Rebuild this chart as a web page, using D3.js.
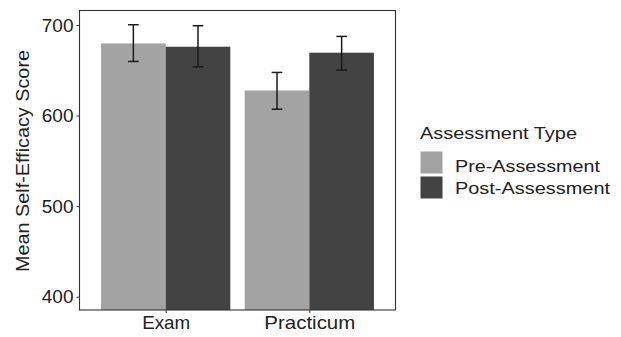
<!DOCTYPE html>
<html><head><meta charset="utf-8">
<script src="https://cdn.jsdelivr.net/npm/d3@7"></script>
<style>body{margin:0;background:#fff}svg{display:block}text{font-family:"Liberation Sans",Arial,sans-serif;fill:#222}</style>
</head><body>
<svg id="c" width="621" height="337"></svg>
<script>
const categories = ["Exam", "Practicum"];
const groups = ["Pre-Assessment", "Post-Assessment"];
const preMean = [679.6, 627.7];
const preLow = [659.7, 607.0];
const preHigh = [700.3, 647.6];
const postMean = [676.0, 669.4];
const postLow = [653.9, 650.2];
const postHigh = [699.2, 687.4];
const yTicks = [400, 500, 600, 700];
const colors = ["#a3a3a3", "#434343"];

const data = [];
categories.forEach((c, i) => {
  data.push({cat: c, grp: groups[0], mean: preMean[i], lo: preLow[i], hi: preHigh[i]});
  data.push({cat: c, grp: groups[1], mean: postMean[i], lo: postLow[i], hi: postHigh[i]});
});

const svg = d3.select("#c");
const L = 79.5, R = 395.5, T = 10.5, B = 310;
const y = d3.scaleLinear().domain([385.3, 716]).range([B, T]);
const xc = d3.scaleLinear().domain([0.4, 2.6]).range([L, R]);
const unit = xc(2) - xc(1);
const bw = unit * 0.9 / 2;
const xg = d3.scaleBand().domain(groups).range([-bw, bw]).padding(0);

const g = svg.append("g");
g.selectAll("rect.bar").data(data).join("rect")
  .attr("x", d => xc(categories.indexOf(d.cat) + 1) + xg(d.grp))
  .attr("y", d => y(d.mean))
  .attr("width", xg.bandwidth())
  .attr("height", d => B - y(d.mean))
  .attr("fill", d => colors[groups.indexOf(d.grp)]);

const cap = 5.3;
const eb = g.selectAll("g.eb").data(data).join("g")
  .attr("transform", d => `translate(${xc(categories.indexOf(d.cat) + 1) + xg(d.grp) + xg.bandwidth()/2},0)`);
eb.append("line").attr("x1",0).attr("x2",0).attr("y1",d=>y(d.lo)).attr("y2",d=>y(d.hi)).attr("stroke","#1a1a1a").attr("stroke-width",1.5);
eb.append("line").attr("x1",-cap).attr("x2",cap).attr("y1",d=>y(d.lo)).attr("y2",d=>y(d.lo)).attr("stroke","#1a1a1a").attr("stroke-width",1.5);
eb.append("line").attr("x1",-cap).attr("x2",cap).attr("y1",d=>y(d.hi)).attr("y2",d=>y(d.hi)).attr("stroke","#1a1a1a").attr("stroke-width",1.5);

svg.append("rect").attr("x",L).attr("y",T).attr("width",R-L).attr("height",B-T)
  .attr("fill","none").attr("stroke","#333").attr("stroke-width",1.1);

// y axis
const ya = svg.append("g").attr("transform",`translate(${L},0)`)
  .call(d3.axisLeft(y).tickValues(yTicks).tickSize(3).tickPadding(3));
ya.select(".domain").remove();
ya.selectAll(".tick line").attr("stroke","#333");
ya.selectAll(".tick text").style("font-size","19px").attr("fill","#222");

// x axis
const xLabelLen = [48, 91];
const xa = svg.append("g").attr("transform",`translate(0,${B})`)
  .call(d3.axisBottom(d3.scalePoint().domain(categories).range([xc(1), xc(2)])).tickSize(3).tickPadding(3));
xa.select(".domain").remove();
xa.selectAll(".tick line").attr("stroke","#333");
xa.selectAll(".tick text").style("font-size","18.5px").attr("fill","#222")
  .attr("textLength",(d,i)=>xLabelLen[i]).attr("lengthAdjust","spacingAndGlyphs");

svg.append("text").attr("transform",`translate(29,${161}) rotate(-90)`)
  .attr("text-anchor","middle").style("font-size","19px")
  .attr("textLength",222).attr("lengthAdjust","spacingAndGlyphs")
  .text("Mean Self-Efficacy Score");

// legend
const legLen = [145, 155];
const lg = svg.append("g");
lg.append("text").attr("x",420).attr("y",138.5).style("font-size","17px")
  .attr("textLength",157).attr("lengthAdjust","spacingAndGlyphs").text("Assessment Type");
groups.forEach((gr, i) => {
  lg.append("rect").attr("x",420.5).attr("y",151.5 + i*25).attr("width",22).attr("height",22).attr("fill",colors[i]);
  lg.append("text").attr("x",455).attr("y",171.8 + i*22).style("font-size","17px")
    .attr("textLength",legLen[i]).attr("lengthAdjust","spacingAndGlyphs").text(gr);
});
</script>
</body></html>
